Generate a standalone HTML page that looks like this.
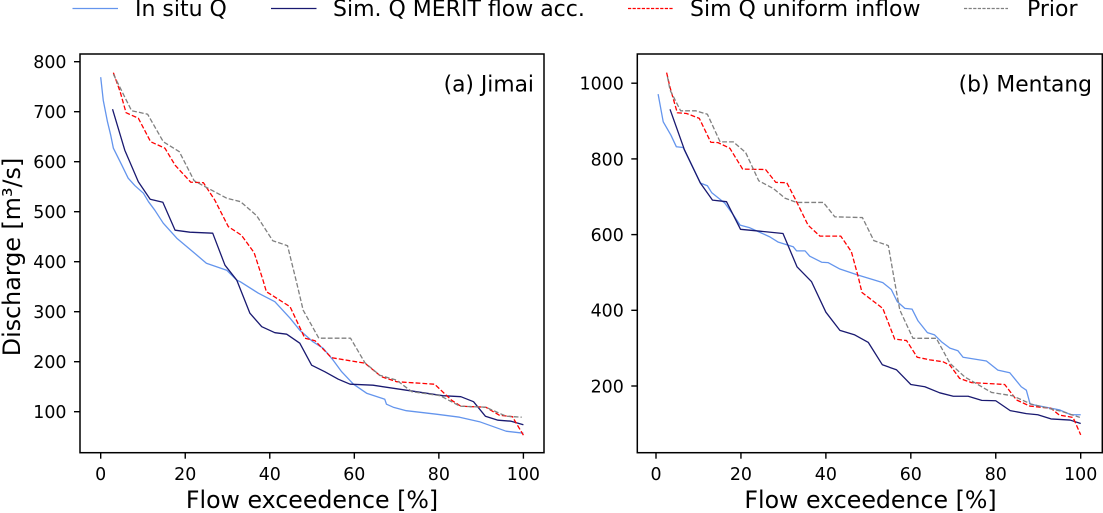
<!DOCTYPE html>
<html>
<head>
<meta charset="utf-8">
<style>
html,body{margin:0;padding:0;background:#fff;width:1103px;height:513px;overflow:hidden}
svg{display:block}
text{font-family:"DejaVu Sans","Liberation Sans",sans-serif;fill:#000}
</style>
</head>
<body>
<svg id="chart" width="1103" height="513" viewBox="0 0 1103 513" xmlns="http://www.w3.org/2000/svg">
  <g>
    <line x1="72.5" x2="118" y1="8.5" y2="8.5" stroke="#6495ED" stroke-width="1.3"/>
    <text x="135" y="16" font-size="22">In situ Q</text>
    <line x1="271" x2="316.5" y1="8.5" y2="8.5" stroke="#191970" stroke-width="1.3"/>
    <text x="333" y="16" font-size="22">Sim. Q MERIT flow acc.</text>
    <line x1="628" x2="673" y1="8.5" y2="8.5" stroke="#ff0000" stroke-width="1.3" stroke-dasharray="3.2 1.4"/>
    <text x="690" y="16" font-size="22">Sim Q uniform inflow</text>
    <line x1="964" x2="1008" y1="8.5" y2="8.5" stroke="#808080" stroke-width="1.3" stroke-dasharray="3.2 1.4"/>
    <text x="1027" y="16" font-size="22">Prior</text>
  </g>
  <text font-size="23.8" text-anchor="middle" transform="translate(20 257) rotate(-90)">Discharge [m³/s]</text>
  <text font-size="23.7" text-anchor="middle" x="312" y="508">Flow exceedence [%]</text>
  <text font-size="23.7" text-anchor="middle" x="870.5" y="508">Flow exceedence [%]</text>
  <text font-size="21.8" text-anchor="end" x="534" y="91.5">(a) Jimai</text>
  <text font-size="21.8" text-anchor="end" x="1092" y="91.5">(b) Mentang</text>
  <g id="plots"></g>
</svg>
<script>
// Shared axis tick labels
const xTicks = [0, 20, 40, 60, 80, 100];
const jimaiYTicks = [100, 200, 300, 400, 500, 600, 700, 800];
const mentangYTicks = [200, 400, 600, 800, 1000];

// (a) Jimai: flow exceedence [%] and discharge [m3/s]
const jimaiInSituX = [0,0.6,1.6,2.4,3,5,6.5,8.1,10.1,11.3,12.8,14.8,18,21.1,25,29.8,32.2,33,37.3,41.2,44.8,47.1,50.2,52.6,55,57,59.8,62.9,67.2,67.6,69.2,72.3,79.4,84.9,89.6,95.9,100];
const jimaiInSituQ = [769,723,680,652,627,593,567,552,537,520,503,477,447,425,397,383,363,360,337,320,287,263,240,227,203,180,155,137,125,115,109,102,95,89,80,61,57];
const jimaiMeritX = [2.8,5.7,8.9,11.7,14.7,17.6,21.1,26.5,29.4,32.2,35.3,38.1,41.2,44,47.1,49.9,53,56.2,59,64.4,73.1,80.9,85.2,88.2,91,94,97.1,100];
const jimaiMeritQ = [705,623,560,525,519,463,459,457,393,363,297,270,258,255,237,193,180,165,155,153,142,132,130,120,91,83,81,74];
const jimaiUniformX = [3,4.6,6,8.9,11.8,15.2,17.6,21.3,24.3,27,30.2,33.3,36.3,38.4,39.2,44.8,48.3,50.7,54.6,62.5,66.4,70,79,83,85.2,91.1,94.3,97.4,100];
const jimaiUniformQ = [778,740,698,687,640,627,593,559,558,523,470,453,418,363,340,310,247,242,208,197,170,160,155,123,111,109,93,90,53];
const jimaiPriorX = [3,7.3,11.1,14.8,18.6,22.1,24.7,29.8,33.1,36.9,40.7,44.2,46.3,47.9,51.6,59.1,62.5,66,70,73.6,80.3,85,91.1,95.9,99.6];
const jimaiPriorQ = [775,702,695,640,620,562,550,527,520,492,442,432,360,303,247,247,198,173,163,140,132,111,109,91,89];

// (b) Mentang: flow exceedence [%] and discharge [m3/s]
const mentangInSituX = [0.5,1.7,3.5,4.8,6.4,8.4,10.5,12.1,13.1,16.2,18.2,19.8,22.1,26.8,28.8,32.3,33.1,35.1,36.2,39,40.5,43.3,47.6,51.1,53.4,55.4,56.8,58.6,60.3,61.7,63.9,65.6,67.2,69.2,71.1,72.3,77.8,80.5,83.3,86,87.2,88.1,95,97.7,100];
const mentangInSituQ = [971,898,863,832,830,784,736,729,711,683,652,625,618,594,580,568,557,557,543,527,526,509,493,481,473,455,423,405,403,372,341,335,317,300,293,276,266,242,235,198,189,152,137,124,124];
const mentangMeritX = [3.3,6.7,10.4,13.3,16.6,19.9,24.5,29.9,33.2,36.6,40,43.3,46.8,50,53.3,56.6,60,63.3,66.8,70,73.5,76.7,80,83.4,87.2,89.9,93,97.5,100];
const mentangMeritQ = [931,824,737,691,687,614,609,603,515,476,395,347,335,315,256,243,204,198,182,173,173,162,161,135,127,124,113,110,101];
const mentangUniformX = [2.5,3.3,5,7.2,10.2,12.9,14.6,17.4,20.4,25.8,28.2,30.8,33.1,35.8,38.6,43.5,46,47.6,48.5,53.4,56.2,59,61.5,64.5,67.6,69.2,71.5,74.3,77.4,82.1,84.9,88,93,95,98.2,100];
const mentangUniformQ = [1028,989,922,920,907,844,843,828,773,772,738,737,687,625,596,596,555,489,447,405,324,320,276,269,264,255,220,209,207,204,163,147,141,123,117,71];
const mentangPriorX = [2.7,3.3,5.8,9.4,12.1,15.1,18.2,21.1,24.2,27.6,30.4,33.1,39.4,42.1,48.6,51.3,54.7,56.2,57.4,60.5,66,69.2,72.7,79,84,88.4,95.8,99.8];
const mentangPriorQ = [1017,982,927,927,918,845,845,817,742,722,696,685,685,647,645,584,571,475,401,326,326,260,224,183,174,152,132,117];

const SVGNS = 'http://www.w3.org/2000/svg';
const root = document.getElementById('plots');

function make(tag, parent, attrs) {
  const el = document.createElementNS(SVGNS, tag);
  for (const k in attrs) el.setAttribute(k, attrs[k]);
  parent.appendChild(el);
  return el;
}

function drawPanel(panel) {
  const sx = v => panel.x0 + v * panel.xScale;
  const sy = v => panel.y0 - v * panel.yScale;

  const group = make('g', root, {});
  
  

  panel.series.forEach(s => {
    const points = s.x.map((v, i) => sx(v).toFixed(2) + ',' + sy(s.y[i]).toFixed(2)).join(' ');
    const line = make('polyline', group, {
      points: points,
      fill: 'none',
      stroke: s.color,
      'stroke-width': 1.3,
      'stroke-linejoin': 'round'
    });
    if (s.dashed) line.setAttribute('stroke-dasharray', '4.8 2.1');
    
    
  });

  const frame = make('rect', group, {
    x: panel.left,
    y: panel.top,
    width: panel.right - panel.left,
    height: panel.bottom - panel.top,
    fill: 'none',
    stroke: '#000',
    'stroke-width': 1.5
  });
  
  

  xTicks.forEach(t => {
    const tick = make('line', group, {
      x1: sx(t), x2: sx(t), y1: panel.bottom, y2: panel.bottom + 6,
      stroke: '#000', 'stroke-width': 1.4
    });
    
    
    const label = make('text', group, {
      x: sx(t), y: panel.bottom + 27.5, 'font-size': 17.4, 'text-anchor': 'middle'
    });
    label.textContent = t;
    
    
  });

  panel.yTicks.forEach(t => {
    const tick = make('line', group, {
      x1: panel.left - 6, x2: panel.left, y1: sy(t), y2: sy(t),
      stroke: '#000', 'stroke-width': 1.4
    });
    
    
    const label = make('text', group, {
      x: panel.left - 13.5, y: sy(t) + 6.4, 'font-size': 17.4, 'text-anchor': 'end'
    });
    label.textContent = t;
    
    
  });
}

drawPanel({
  id: 'jimai', left: 80, right: 544, top: 54, bottom: 452.7,
  x0: 100.7, xScale: 4.227, y0: 461.7, yScale: 0.5,
  yTicks: jimaiYTicks,
  series: [
    {key: 'in-situ', x: jimaiInSituX, y: jimaiInSituQ, color: '#6495ED', dashed: false},
    {key: 'merit', x: jimaiMeritX, y: jimaiMeritQ, color: '#191970', dashed: false},
    {key: 'uniform', x: jimaiUniformX, y: jimaiUniformQ, color: '#ff0000', dashed: true},
    {key: 'prior', x: jimaiPriorX, y: jimaiPriorQ, color: '#808080', dashed: true}
  ]
});

drawPanel({
  id: 'mentang', left: 637.3, right: 1102.3, top: 54, bottom: 452.7,
  x0: 656, xScale: 4.247, y0: 461.7, yScale: 0.3785,
  yTicks: mentangYTicks,
  series: [
    {key: 'in-situ', x: mentangInSituX, y: mentangInSituQ, color: '#6495ED', dashed: false},
    {key: 'merit', x: mentangMeritX, y: mentangMeritQ, color: '#191970', dashed: false},
    {key: 'uniform', x: mentangUniformX, y: mentangUniformQ, color: '#ff0000', dashed: true},
    {key: 'prior', x: mentangPriorX, y: mentangPriorQ, color: '#808080', dashed: true}
  ]
});
</script>
</body>
</html>
